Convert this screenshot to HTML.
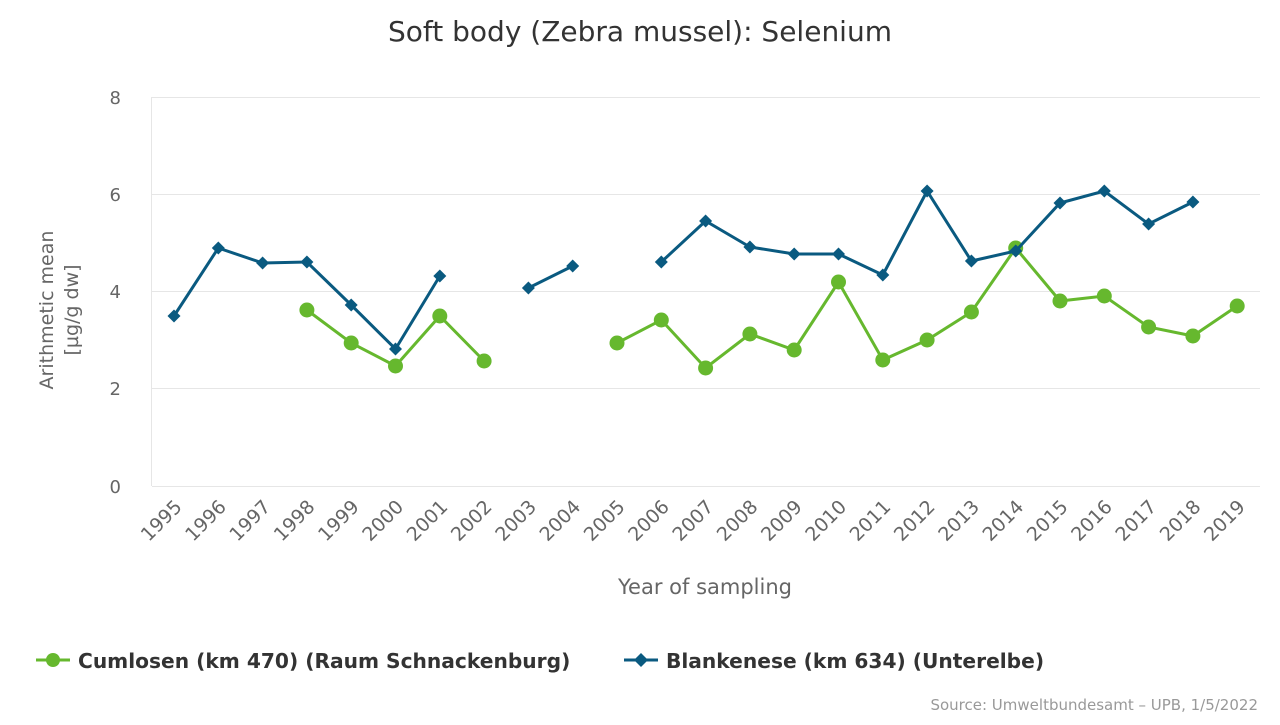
<!DOCTYPE html>
<html><head><meta charset="utf-8"><style>
body{margin:0;background:#fff;}
svg text{font-family:"DejaVu Sans","Liberation Sans",sans-serif;}
</style></head><body>
<svg width="1280" height="720" xmlns="http://www.w3.org/2000/svg">
<defs>
<marker id="mc" markerUnits="userSpaceOnUse" markerWidth="18" markerHeight="18" refX="9" refY="9" viewBox="0 0 18 18"><circle cx="9" cy="9" r="7.5" fill="#66b82e"/></marker>
<marker id="md" markerUnits="userSpaceOnUse" markerWidth="16" markerHeight="16" refX="8" refY="8" viewBox="0 0 16 16"><polygon points="8,1.5 14.5,8 8,14.5 1.5,8" fill="#0a5a80"/></marker>
</defs>
<text x="640" y="41" text-anchor="middle" font-size="28" fill="#333">Soft body (Zebra mussel): Selenium</text>
<g stroke="#e6e6e6" stroke-width="1">
<line x1="152" x2="1260" y1="97.5" y2="97.5"/>
<line x1="152" x2="1260" y1="194.5" y2="194.5"/>
<line x1="152" x2="1260" y1="291.5" y2="291.5"/>
<line x1="152" x2="1260" y1="388.5" y2="388.5"/>
<line x1="152" x2="1260" y1="486.5" y2="486.5"/>
<line x1="151.5" x2="151.5" y1="97" y2="486"/>
</g>
<g font-size="18" fill="#666" text-anchor="end">
<text x="121" y="104">8</text><text x="121" y="201">6</text><text x="121" y="298">4</text><text x="121" y="395">2</text><text x="121" y="493">0</text>
</g>
<g font-size="19" fill="#666" text-anchor="middle" transform="rotate(-90)">
<text x="-310" y="53">Arithmetic mean</text><text x="-310" y="78">[µg/g dw]</text>
</g>
<g font-size="19" fill="#666" text-anchor="end">
<text transform="translate(183,508) rotate(-45)">1995</text>
<text transform="translate(227.3,508) rotate(-45)">1996</text>
<text transform="translate(271.6,508) rotate(-45)">1997</text>
<text transform="translate(315.9,508) rotate(-45)">1998</text>
<text transform="translate(360.2,508) rotate(-45)">1999</text>
<text transform="translate(404.5,508) rotate(-45)">2000</text>
<text transform="translate(448.8,508) rotate(-45)">2001</text>
<text transform="translate(493.1,508) rotate(-45)">2002</text>
<text transform="translate(537.4,508) rotate(-45)">2003</text>
<text transform="translate(581.7,508) rotate(-45)">2004</text>
<text transform="translate(626,508) rotate(-45)">2005</text>
<text transform="translate(670.3,508) rotate(-45)">2006</text>
<text transform="translate(714.6,508) rotate(-45)">2007</text>
<text transform="translate(758.9,508) rotate(-45)">2008</text>
<text transform="translate(803.2,508) rotate(-45)">2009</text>
<text transform="translate(847.5,508) rotate(-45)">2010</text>
<text transform="translate(891.8,508) rotate(-45)">2011</text>
<text transform="translate(936.1,508) rotate(-45)">2012</text>
<text transform="translate(980.4,508) rotate(-45)">2013</text>
<text transform="translate(1024.7,508) rotate(-45)">2014</text>
<text transform="translate(1069,508) rotate(-45)">2015</text>
<text transform="translate(1113.3,508) rotate(-45)">2016</text>
<text transform="translate(1157.6,508) rotate(-45)">2017</text>
<text transform="translate(1201.9,508) rotate(-45)">2018</text>
<text transform="translate(1246.2,508) rotate(-45)">2019</text>
</g>
<text x="705" y="594" text-anchor="middle" font-size="21" fill="#666">Year of sampling</text>
<g fill="none" stroke="#66b82e" stroke-width="3" marker-start="url(#mc)" marker-mid="url(#mc)" marker-end="url(#mc)">
<polyline points="306.9,310 351.2,343 395.5,366 439.8,316 484.1,361"/>
<polyline points="617,343 661.3,320 705.6,368 749.9,334 794.2,350 838.5,282 882.8,360 927.1,340 971.4,312 1015.7,248 1060,301 1104.3,296 1148.6,327 1192.9,336 1237.2,306"/>
</g>
<g fill="none" stroke="#0a5a80" stroke-width="3" marker-start="url(#md)" marker-mid="url(#md)" marker-end="url(#md)">
<polyline points="174,316 218.3,248 262.6,263 306.9,262 351.2,305 395.5,349 439.8,276"/>
<polyline points="528.4,288 572.7,266"/>
<polyline points="661.3,262 705.6,221 749.9,247 794.2,254 838.5,254 882.8,275 927.1,191 971.4,261 1015.7,251 1060,203 1104.3,191 1148.6,224 1192.9,202"/>
</g>
<g font-size="20.2" font-weight="bold" fill="#333">
<line x1="36" x2="70" y1="660" y2="660" stroke="#66b82e" stroke-width="3"/><circle cx="53" cy="660" r="7" fill="#66b82e"/>
<text x="78" y="668">Cumlosen (km 470) (Raum Schnackenburg)</text>
<line x1="624" x2="658" y1="660" y2="660" stroke="#0a5a80" stroke-width="3"/><polygon points="641,653 648,660 641,667 634,660" fill="#0a5a80"/>
<text x="666" y="668">Blankenese (km 634) (Unterelbe)</text>
</g>
<text x="1258" y="710" text-anchor="end" font-size="15" fill="#999">Source: Umweltbundesamt – UPB, 1/5/2022</text>
</svg>
</body></html>
